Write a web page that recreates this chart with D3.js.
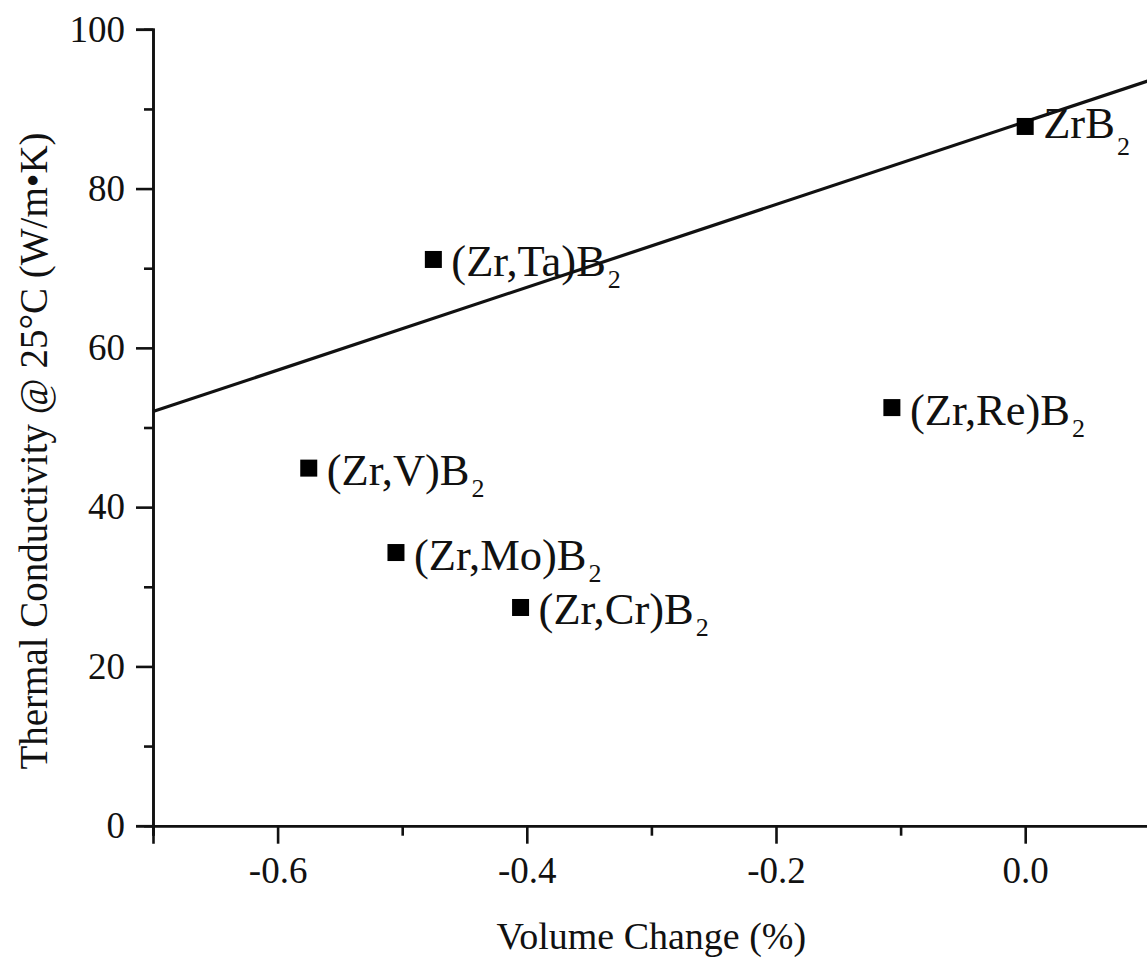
<!DOCTYPE html>
<html>
<head>
<meta charset="utf-8">
<script src="https://cdn.jsdelivr.net/npm/d3@7/dist/d3.min.js"></script>
<style>
  html, body { margin: 0; padding: 0; background: #fff; }
  svg { display: block; }
  text { font-family: "Liberation Serif", "Times New Roman", serif; fill: #111; }
</style>
</head>
<body>
<svg id="chart" width="1147" height="959"></svg>
<script>
// Diboride compositions: volume change vs. room-temperature thermal conductivity
const compounds   = ["ZrB", "(Zr,Ta)B", "(Zr,V)B", "(Zr,Mo)B", "(Zr,Cr)B", "(Zr,Re)B"];
const subscripts  = ["2", "2", "2", "2", "2", "2"];
const volumeChange = [0.0, -0.475, -0.575, -0.505, -0.405, -0.107];
const conductivity = [87.8, 71.1, 44.9, 34.3, 27.4, 52.5];

// Linear trend line endpoints
const trendX = [-0.7, 0.1];
const trendY = [52.0, 93.6];

// Axis ticks
const xMajorTicks = [-0.6, -0.4, -0.2, 0.0];
const xMinorTicks = [-0.7, -0.5, -0.3, -0.1, 0.1];
const yMajorTicks = [0, 20, 40, 60, 80, 100];
const yMinorTicks = [10, 30, 50, 70, 90];

const xTitle = "Volume Change (%)";
const yTitle = "Thermal Conductivity @ 25°C (W/m•K)";

const svg = d3.select("#chart");
const plotLeft = 153, plotRight = 1149.8, plotTop = 29.3, plotBottom = 825.7;

const x = d3.scaleLinear().domain([-0.7, 0.1]).range([plotLeft, plotRight]);
const y = d3.scaleLinear().domain([0, 100]).range([plotBottom, plotTop]);

const axisStroke = 2.6;

// Minor ticks
const xMinor = svg.append("g").attr("transform", `translate(0,${plotBottom})`)
  .call(d3.axisBottom(x).tickValues(xMinorTicks).tickSize(10).tickFormat(""));
const yMinor = svg.append("g").attr("transform", `translate(${plotLeft},0)`)
  .call(d3.axisLeft(y).tickValues(yMinorTicks).tickSize(9).tickFormat(""));

// Major ticks with labels
const fmtX = d => d3.format(".1f")(d).replace("\u2212", "-");
const xAxis = svg.append("g").attr("transform", `translate(0,${plotBottom})`)
  .call(d3.axisBottom(x).tickValues(xMajorTicks).tickSize(18).tickPadding(13)
        .tickFormat(fmtX));
const yAxis = svg.append("g").attr("transform", `translate(${plotLeft},0)`)
  .call(d3.axisLeft(y).tickValues(yMajorTicks).tickSize(17).tickPadding(11)
        .tickFormat(d3.format("d")));

[xMinor, yMinor, xAxis, yAxis].forEach(g => {
  g.selectAll(".domain").attr("stroke", "#111").attr("stroke-width", axisStroke);
  g.selectAll(".tick line").attr("stroke", "#111").attr("stroke-width", axisStroke);
  g.selectAll("text").attr("font-size", 37).attr("fill", "#111");
});

// Trend line
svg.append("line")
  .attr("x1", x(trendX[0])).attr("y1", y(trendY[0]))
  .attr("x2", x(trendX[1])).attr("y2", y(trendY[1]))
  .attr("stroke", "#111").attr("stroke-width", 3.2);

// Data markers
const pts = compounds.map((name, i) => ({
  name, sub: subscripts[i], vx: volumeChange[i], vy: conductivity[i]
}));
const markerSize = 17;
svg.append("g").selectAll("rect").data(pts).join("rect")
  .attr("x", d => x(d.vx) - markerSize / 2)
  .attr("y", d => y(d.vy) - markerSize / 2)
  .attr("width", markerSize).attr("height", markerSize)
  .attr("fill", "#000");

// Point labels with subscript
const lbl = svg.append("g").selectAll("text").data(pts).join("text")
  .attr("x", d => x(d.vx) + 18)
  .attr("y", d => y(d.vy) + (d.name === "ZrB" ? 12 : 17))
  .attr("font-size", 44.5);
lbl.append("tspan").text(d => d.name);
lbl.append("tspan").attr("font-size", 26).attr("dx", 2)
  .attr("dy", d => d.name === "ZrB" ? 17 : 12)
  .text(d => d.sub);

// Axis titles
svg.append("text")
  .attr("x", (plotLeft + plotRight) / 2).attr("y", 949)
  .attr("text-anchor", "middle").attr("font-size", 38)
  .text(xTitle);
svg.append("text")
  .attr("transform", `translate(47,451) rotate(-90)`)
  .attr("text-anchor", "middle").attr("font-size", 39)
  .text(yTitle);
</script>
</body>
</html>
